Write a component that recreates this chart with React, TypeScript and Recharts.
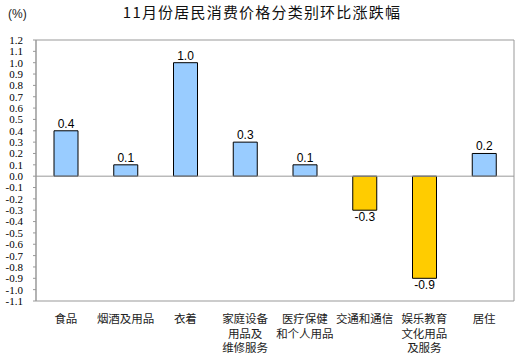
import { Bar, BarChart, Cell, LabelList, ReferenceArea, ReferenceLine, XAxis, YAxis } from 'recharts'

// 11月份居民消费价格分类别环比涨跌幅 — 8 categories, month-on-month change (%)

const categories = ['食品', '烟酒及用品', '衣着', '家庭设备用品及维修服务', '医疗保健和个人用品', '交通和通信', '娱乐教育文化用品及服务', '居住']
// how each category name wraps under the axis
const categoryLines = [
  ['食品'],
  ['烟酒及用品'],
  ['衣着'],
  ['家庭设备', '用品及', '维修服务'],
  ['医疗保健', '和个人用品'],
  ['交通和通信'],
  ['娱乐教育', '文化用品', '及服务'],
  ['居住'],
]
const changes = [0.4, 0.1, 1.0, 0.3, 0.1, -0.3, -0.9, 0.2]
const yTicks = [
  1.2, 1.1, 1.0, 0.9, 0.8, 0.7, 0.6, 0.5, 0.4, 0.3, 0.2, 0.1, 0.0,
  -0.1, -0.2, -0.3, -0.4, -0.5, -0.6, -0.7, -0.8, -0.9, -1.0, -1.1,
]

const UP = '#99CCFF'
const DOWN = '#FFCC00'
const FRAME = '#999999'
const CJK = '"Noto Sans CJK SC", "Noto Sans", sans-serif'

const data = categories.map((name, i) => ({ name, value: changes[i] }))

function CategoryTick(props: any) {
  const { x, y, index } = props
  const lines = categoryLines[index] ?? []
  // one <text> per line so each line keeps its own box
  return (
    <g>
      {lines.map((l, i) => (
        <text key={i} x={x} y={y + 14 + i * 14.7} textAnchor="middle" fontSize={11.5} fontFamily={CJK} fill="#222">
          {l}
        </text>
      ))}
    </g>
  )
}

function ValueLabel(props: any) {
  const { x, y, width, height, value } = props
  const v = Number(value)
  const cx = x + width / 2
  // negative bars: label hangs under the bar end
  const top = Math.min(y, y + height)
  const bottom = Math.max(y, y + height)
  const ty = v >= 0 ? top - 3 : bottom + 11
  return (
    <text x={cx} y={ty} textAnchor="middle" fontSize={12} fontFamily="Liberation Sans, Arial, sans-serif" fill="#000">
      {v.toFixed(1)}
    </text>
  )
}

export default function App() {
  return (
    <div style={{ position: 'absolute', left: 0, top: 0, width: 520, height: 360, background: '#fff' }}>
      <div
        style={{
          position: 'absolute',
          left: 0,
          width: 524,
          top: 1,
          textAlign: 'center',
          fontFamily: CJK,
          fontSize: 15,
          letterSpacing: 1.2,
          color: '#111',
        }}
      >
        11月份居民消费价格分类别环比涨跌幅
      </div>
      <div style={{ position: 'absolute', left: 8, top: 7, fontFamily: 'Liberation Sans, Arial, sans-serif', fontSize: 12, color: '#222' }}>
        (%)
      </div>
      <BarChart width={520} height={360} data={data} margin={{ top: 40, right: 6, left: 0, bottom: 0 }}>
        <ReferenceArea y1={-1.1} y2={1.2} fill="none" stroke={FRAME} strokeWidth={1} ifOverflow="visible" />
        <ReferenceLine y={0} stroke={FRAME} strokeWidth={1} />
        <XAxis dataKey="name" axisLine={false} tickLine={false} interval={0} height={59} tick={<CategoryTick />} />
        <YAxis
          domain={[-1.1, 1.2]}
          ticks={yTicks}
          interval={0}
          width={36}
          axisLine={{ stroke: FRAME }}
          tickLine={{ stroke: FRAME }}
          tickSize={3}
          tickMargin={10}
          tickFormatter={(v) => Number(v).toFixed(1)}
          tick={{ fontSize: 11, fontFamily: 'Liberation Serif, serif', fill: '#000' }}
          allowDataOverflow
        />
        <Bar dataKey="value" barSize={24} stroke="#000" strokeWidth={1} isAnimationActive={false}>
          {data.map((d, i) => (
            <Cell key={i} fill={d.value >= 0 ? UP : DOWN} />
          ))}
          <LabelList dataKey="value" content={<ValueLabel />} />
        </Bar>
      </BarChart>
    </div>
  )
}
